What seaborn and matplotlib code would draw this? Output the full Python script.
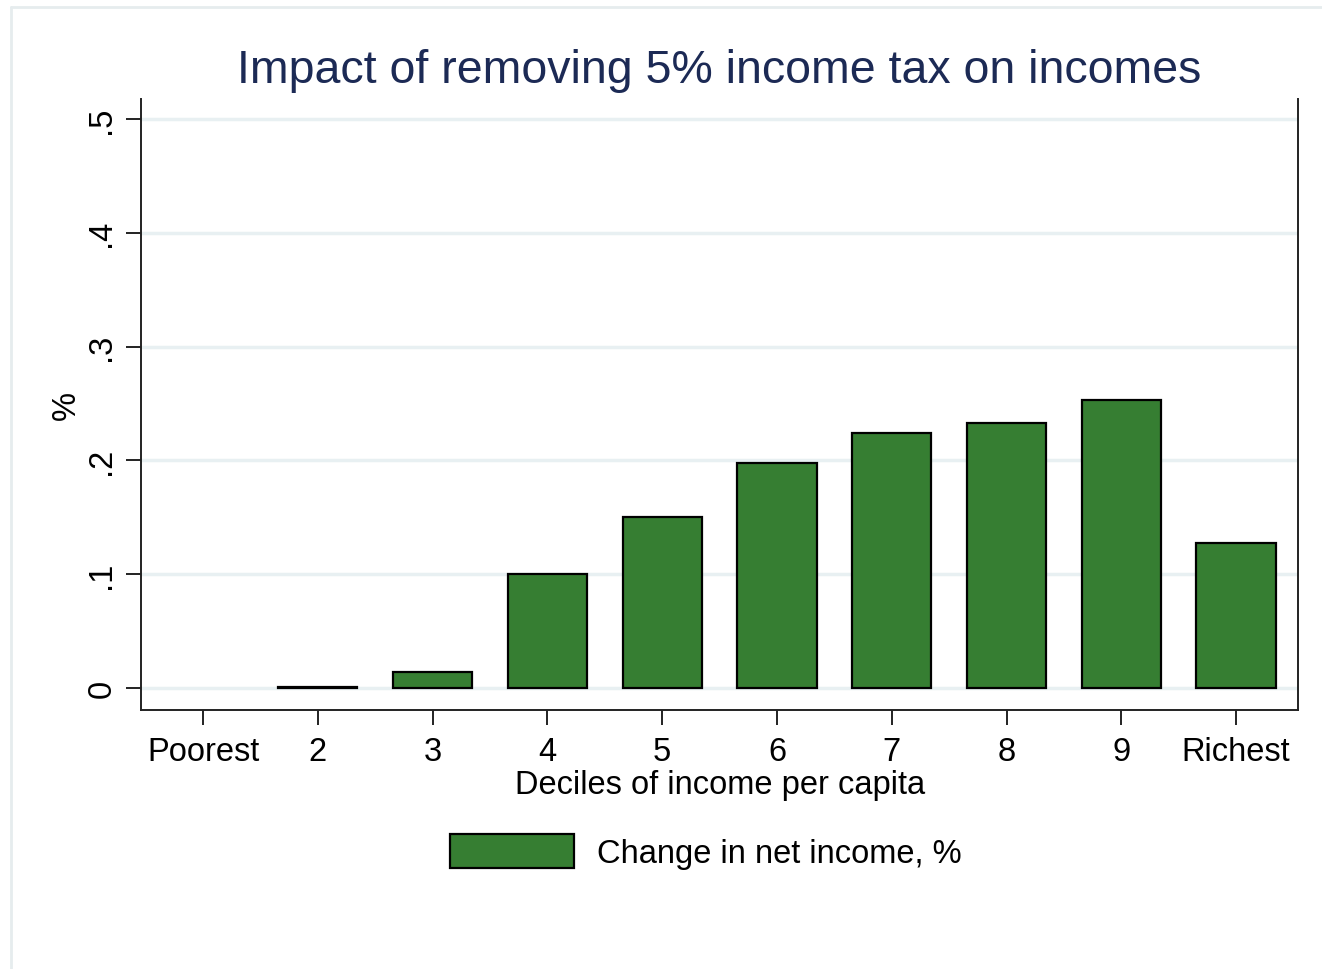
import numpy as np
import pandas as pd
import seaborn as sns
import matplotlib.pyplot as plt
from matplotlib.patches import Patch

deciles = ['Poorest', '2', '3', '4', '5', '6', '7', '8', '9', 'Richest']
change = [0.0, 0.001, 0.014, 0.100, 0.150, 0.198, 0.224, 0.233, 0.253, 0.127]
yticks = [0, 0.1, 0.2, 0.3, 0.4, 0.5]
ytick_labels = ['0', '.1', '.2', '.3', '.4', '.5']

bar_color = '#367e32'
font = 'Liberation Sans'

sns.set_style('white')
plt.rcParams['font.family'] = [font, 'DejaVu Sans']
plt.rcParams['text.color'] = 'black'
plt.rcParams['axes.labelcolor'] = 'black'

df = pd.DataFrame({'decile': deciles, 'change': change})

fig = plt.figure(figsize=(13.22, 9.70), dpi=100)
ax = fig.add_axes([0.1067, 0.267, 0.8752, 0.630])

sns.barplot(data=df, x='decile', y='change', order=deciles, color=bar_color,
            edgecolor='black', linewidth=1.6, width=0.69, saturation=1, ax=ax)
# zero-height bar draws nothing in the original
for p in ax.patches:
    if p.get_height() == 0:
        p.set_linewidth(0)

ax.set_xlim(-0.54, 9.54)
ax.set_ylim(-0.0193, 0.5176)
ax.set_yticks(yticks)
ax.set_yticklabels(ytick_labels, rotation=90, va='center')
ax.yaxis.grid(True, color='#e8f0f2', linewidth=2.5)
ax.set_axisbelow(True)

for s in ['left', 'bottom', 'right']:
    ax.spines[s].set_visible(True)
    ax.spines[s].set_color('#222222')
    ax.spines[s].set_linewidth(1.4)
ax.spines['top'].set_visible(False)

ax.tick_params(axis='both', which='major', direction='out', length=11, width=1.4,
               color='#222222', labelsize=23.5, labelcolor='black', left=True, bottom=True)
ax.tick_params(axis='x', pad=8)
ax.tick_params(axis='y', pad=6)

ax.set_xlabel('Deciles of income per capita', fontsize=23.5, labelpad=1)
ax.set_ylabel('%', fontsize=23.5, labelpad=3)
ax.set_title('Impact of removing 5% income tax on incomes', fontsize=33.5,
             color='#1c2a55', pad=12)

handles = [Patch(facecolor=bar_color, edgecolor='black', linewidth=1.6,
                 label='Change in net income, %')]
fig.legend(handles=handles, loc='center', bbox_to_anchor=(0.534, 0.121),
           frameon=False, fontsize=23.5, handlelength=3.8, handleheight=1.2,
           handletextpad=0.7)

# thin outer frame like the source screenshot
fig.add_artist(plt.Line2D([0.008, 0.008], [0, 0.992], color='#e6ecee', linewidth=2,
                          transform=fig.transFigure))
fig.add_artist(plt.Line2D([0.008, 1], [0.992, 0.992], color='#e6ecee', linewidth=2,
                          transform=fig.transFigure))

fig.savefig('out.png', dpi=100, facecolor='white')
